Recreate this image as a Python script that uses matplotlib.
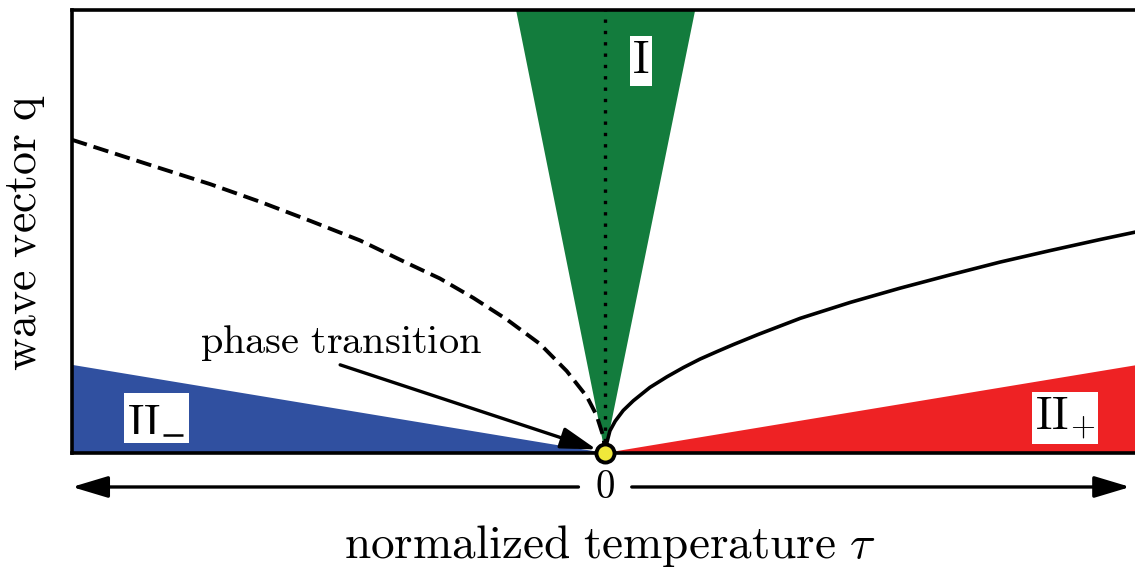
import matplotlib
matplotlib.use('Agg')
import matplotlib.pyplot as plt

plt.rcParams['mathtext.fontset'] = 'cm'

# curves (tau normalised to [-1, 1], q to [0, 1])
tau_unstable = [-1.0, -0.835, -0.741, -0.647, -0.553, -0.46, -0.422, -0.372, -0.31,
                -0.247, -0.185, -0.122, -0.072, -0.034, -0.016, -0.003, 0.0]
q_unstable = [0.707, 0.643, 0.607, 0.567, 0.524, 0.480, 0.458, 0.429, 0.394,
              0.350, 0.302, 0.246, 0.185, 0.127, 0.085, 0.036, 0.0]

tau_stable = [0.0, 0.003, 0.009, 0.019, 0.034, 0.053, 0.084, 0.116, 0.147, 0.178,
              0.21, 0.241, 0.288, 0.366, 0.46, 0.553, 0.647, 0.741, 0.835, 0.929, 1.0]
q_stable = [0.0, 0.022, 0.05, 0.072, 0.096, 0.118, 0.148, 0.172, 0.193, 0.212,
            0.229, 0.245, 0.268, 0.304, 0.340, 0.372, 0.402, 0.431, 0.457, 0.482, 0.5]

# regions
region_I_tau = [-0.167, 0.0, 0.169]
region_I_q = [1.0, 0.0, 1.0]
region_IIm_tau = [-1.0, -1.0, 0.0]
region_IIm_q = [0.0, 0.199, 0.0]
region_IIp_tau = [0.0, 1.0, 1.0]
region_IIp_q = [0.0, 0.199, 0.0]

labels = [r'$\mathrm{I}$', '$\\mathrm{II}_{\u2212}$', r'$\mathrm{II}_{+}$']
label_pos = [(0.0675, 0.885), (-0.841, 0.079), (0.863, 0.079)]

fig = plt.figure(figsize=(11.35, 5.68), dpi=100)
ax = fig.add_axes([72 / 1135, 115 / 568, 1063 / 1135, 443 / 568])

ax.fill(region_I_tau, region_I_q, color='#137c3d', lw=0, zorder=1)
ax.fill(region_IIm_tau, region_IIm_q, color='#3050a0', lw=0, zorder=1)
ax.fill(region_IIp_tau, region_IIp_q, color='#ee2224', lw=0, zorder=1)

ax.plot([0, 0], [0, 1], color='k', lw=2.4, linestyle=(0, (1, 2.4)), zorder=2)
ax.plot(tau_unstable, q_unstable, color='k', lw=2.8, linestyle=(0, (4, 1.8)), zorder=3)
ax.plot(tau_stable, q_stable, color='k', lw=2.6, zorder=3)

for lab, (x, y) in zip(labels, label_pos):
    ax.text(x, y, lab, fontsize=33, ha='center', va='center', zorder=4,
            bbox=dict(facecolor='white', edgecolor='none', pad=2))
# the subscript minus of II_- (cm minus glyph does not show up here)
ax.plot([-0.829, -0.792], [0.04, 0.04], color='k', lw=1.8,
        solid_capstyle='butt', zorder=6)

# phase transition arrow
ax.annotate('', xy=(-0.016, 0.008), xytext=(-0.497, 0.199),
            arrowprops=dict(arrowstyle='-|>,head_length=1.0,head_width=0.3',
                            mutation_scale=22, lw=2.4, color='k',
                            shrinkA=0, shrinkB=0), zorder=5)
ax.text(-0.495, 0.248, r'$\mathrm{phase\ transition}$', fontsize=29,
        ha='center', va='center', zorder=5)

ax.scatter([0], [0], s=170, color='#f0e83a', edgecolor='k', linewidth=2.8,
           zorder=10, clip_on=False)

ax.set_xlim(-1, 0.994)
ax.set_ylim(0, 1)
ax.set_xticks([])
ax.set_yticks([])
for side in ['left', 'top', 'bottom']:
    ax.spines[side].set_linewidth(2.6)
ax.spines['right'].set_visible(False)

# temperature axis arrows below the plot
trans = ax.get_xaxis_transform()
y_arr = -0.0767
for x_from, x_to in [(-0.05, -1.0), (0.05, 0.985)]:
    ax.annotate('', xy=(x_to, y_arr), xytext=(x_from, y_arr), xycoords=trans,
                textcoords=trans, annotation_clip=False,
                arrowprops=dict(arrowstyle='-|>,head_length=1.0,head_width=0.3',
                                mutation_scale=22, lw=2.4, color='k',
                                shrinkA=0, shrinkB=0))
ax.text(0, y_arr, r'$0$', transform=trans, fontsize=28, ha='center', va='center')

fig.text(610 / 1135, 1 - 546 / 568, r'$\mathrm{normalized\ temperature}\ \tau$',
         fontsize=34, ha='center', va='center')
fig.text(25 / 1135, 1 - 232 / 568, r'$\mathrm{wave\ vector\ q}$',
         fontsize=33, ha='center', va='center', rotation=90)

fig.savefig('out.png', dpi=100)
